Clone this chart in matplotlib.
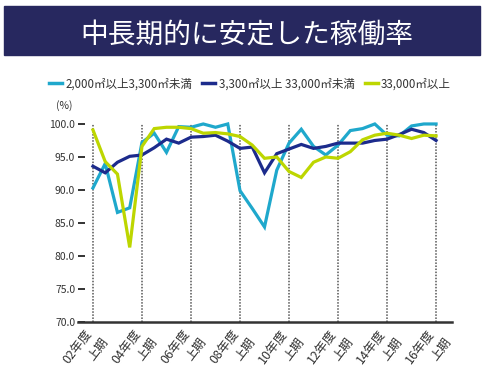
import matplotlib
matplotlib.use("Agg")
import matplotlib.pyplot as plt
from matplotlib.patches import Rectangle

plt.rcParams['font.family'] = ['Noto Sans CJK JP', 'DejaVu Sans']

# Half-year periods, 2002 first half to 2016 first half
periods = list(range(29))
tick_pos = [0, 4, 8, 12, 16, 20, 24, 28]
tick_years = ["02年度", "04年度", "06年度", "08年度",
              "10年度", "12年度", "14年度", "16年度"]
tick_half = "上期"

series_names = ["2,000㎡以上3,300㎡未満", "3,300㎡以上 33,000㎡未満", "33,000㎡以上"]

small = [90.3, 94.0, 86.6, 87.3, 97.2, 98.6, 95.7, 99.6, 99.5, 100.0,
         99.5, 100.0, 89.9, 87.2, 84.4, 93.0, 97.1, 99.2, 96.6, 95.3,
         96.8, 99.0, 99.3, 100.0, 98.3, 98.2, 99.7, 100.0, 100.0]
medium = [93.6, 92.6, 94.2, 95.1, 95.3, 96.4, 97.7, 97.1, 98.0, 98.1,
          98.3, 97.4, 96.3, 96.5, 92.6, 95.5, 96.2, 96.9, 96.3, 96.6,
          97.1, 97.1, 97.1, 97.5, 97.7, 98.4, 99.2, 98.7, 97.5]
large = [99.1, 94.3, 92.4, 81.3, 96.6, 99.3, 99.5, 99.5, 99.3, 98.6,
         98.7, 98.5, 98.1, 96.8, 94.8, 95.0, 92.8, 91.9, 94.2, 95.0,
         94.8, 95.8, 97.6, 98.3, 98.6, 98.3, 97.8, 98.3, 98.2]

y_ticks = [70.0, 75.0, 80.0, 85.0, 90.0, 95.0, 100.0]

colors = ["#1fa8cc", "#1c2b8c", "#bdd600"]
text_color = "#333333"

fig = plt.figure(figsize=(4.84, 3.74), dpi=100)

# Title banner
fig.patches.append(Rectangle((4 / 484, 1 - 55 / 374), 476 / 484, 49 / 374,
                             transform=fig.transFigure, color="#27285f", zorder=0))
fig.text(0.509, 0.904, "中長期的に安定した稼働率", color="white", fontsize=20,
         ha="center", va="center")

ax = fig.add_axes([78 / 484, 0.139, (452 - 78) / 484, 0.556])
ax.set_xlim(-1.22, 29.3)
ax.set_ylim(70, 101.5)

ax.vlines(tick_pos, 70, 100, colors="#555555", linestyles=(0, (1, 1)),
          linewidth=1.1, zorder=1)

for vals, name, c in zip([small, medium, large], series_names, colors):
    ax.plot(periods, vals, color=c, linewidth=2.3, label=name, zorder=3,
            solid_joinstyle="miter")

for s in ["top", "right", "left"]:
    ax.spines[s].set_visible(False)
ax.spines["bottom"].set_color("#333333")
ax.spines["bottom"].set_linewidth(1.8)

ax.set_yticks(y_ticks)
ax.set_yticklabels([f"{v:.1f}" for v in y_ticks], fontsize=7.5, color=text_color)
ax.tick_params(axis="y", direction="in", length=5, width=1.4, color="#333333", pad=2)

# Two-line rotated period labels under each dotted guide
ax.set_xticks([])
for p, yr in zip(tick_pos, tick_years):
    ax.annotate(yr, xy=(p, 70), xycoords="data", xytext=(-1.1, -7.6),
                textcoords="offset points", rotation=53, ha="right",
                va="baseline", rotation_mode="anchor", fontsize=9,
                color=text_color, annotation_clip=False)
    ax.annotate(tick_half, xy=(p, 70), xycoords="data", xytext=(11.2, -13.7),
                textcoords="offset points", rotation=53, ha="right",
                va="baseline", rotation_mode="anchor", fontsize=9,
                color=text_color, annotation_clip=False)

fig.text(64 / 484, 1 - 106 / 374, "(%)", fontsize=7.5, color=text_color,
         ha="center", va="center")

leg = ax.legend(loc="center", ncol=3, frameon=False, fontsize=8.3,
                handlelength=1.1, handletextpad=0.3, columnspacing=0.9,
                borderaxespad=0)
leg.set_bbox_to_anchor((250 / 484, 1 - 84 / 374), transform=fig.transFigure)
for t in leg.get_texts():
    t.set_color(text_color)
for h in leg.get_lines():
    h.set_linewidth(2.5)

fig.savefig("out.png", dpi=100)
